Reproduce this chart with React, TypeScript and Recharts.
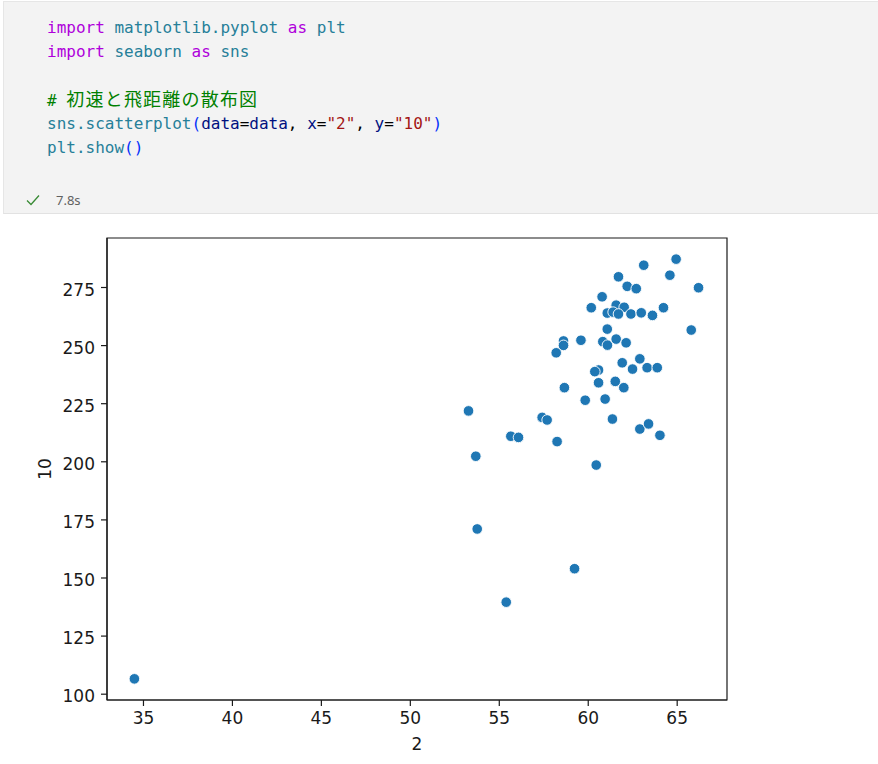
import React from "react";
import {
  ScatterChart,
  Scatter,
  XAxis,
  YAxis,
  ReferenceArea,
} from "recharts";

// x = "2" (初速), y = "10" (飛距離)
const initialSpeed = [
  64.94, 63.12, 64.59, 61.7, 66.2, 62.19, 62.7, 60.78, 60.17, 61.57, 62.02,
  61.07, 61.4, 61.7, 62.4, 62.98, 63.61, 64.23, 65.79, 61.07, 58.61, 58.61,
  59.59, 60.82, 61.08, 61.57, 62.13, 58.2, 61.91, 62.9, 62.49, 63.31, 63.88,
  60.58, 60.37, 60.58, 61.52, 62.0, 58.66, 59.83, 60.95, 57.41, 57.69, 61.36,
  62.9, 63.39, 64.03, 58.25, 53.27, 55.65, 56.08, 53.68, 60.45, 53.76, 59.23,
  55.39, 34.49,
];
const distance = [
  287.2, 284.6, 280.3, 279.6, 274.9, 275.5, 274.5, 271.0, 266.3, 267.4, 266.5,
  264.0, 264.4, 263.6, 263.6, 264.1, 263.0, 266.3, 256.7, 257.1, 252.0, 250.1,
  252.3, 251.7, 250.2, 252.8, 251.2, 246.9, 242.6, 244.3, 239.9, 240.5, 240.5,
  239.5, 238.8, 234.0, 234.6, 231.9, 231.9, 226.5, 227.0, 219.1, 218.0, 218.4,
  214.1, 216.3, 211.4, 208.7, 221.9, 211.0, 210.5, 202.4, 198.6, 171.1, 154.0,
  139.6, 106.6,
];
const xTicks = [35, 40, 45, 50, 55, 60, 65];
const yTicks = [100, 125, 150, 175, 200, 225, 250, 275];
const xDomain = [32.95, 67.8];
const yDomain = [97.5, 296.3];
const xLabel = "2";
const yLabel = "10";

const data = initialSpeed.map((x, i) => ({ x, y: distance[i] }));

const KW = "#af00db";
const MOD = "#267f99";
const VAR = "#001080";
const STR = "#a31515";
const PAREN = "#0431fa";
const CMT = "#008000";

const mono = "'DejaVu Sans Mono', 'Liberation Mono', monospace";

const Dot = (props: any) => {
  const { cx, cy } = props;
  if (cx == null || cy == null) return null;
  return (
    <circle cx={cx} cy={cy} r={5.3} fill="#1f77b4" stroke="#ffffff" strokeWidth={0.9} />
  );
};

const tickStyle = {
  fontFamily: "'DejaVu Sans', sans-serif",
  fontSize: 17,
  fill: "#1a1a1a",
};

const lineStyle: React.CSSProperties = { height: 24, overflow: "visible" };

export default function App() {
  return (
    <div
      style={{
        position: "absolute",
        left: 0,
        top: 0,
        width: 878,
        height: 764,
        background: "#ffffff",
        overflow: "hidden",
      }}
    >
      {/* code cell */}
      <div
        style={{
          position: "absolute",
          left: 3,
          top: 1,
          width: 875,
          height: 211,
          background: "#f3f3f3",
          borderLeft: "1px solid #e6e6e6",
          borderTop: "1px solid #e6e6e6",
          borderBottom: "1px solid #e2e2e2",
        }}
      />
      <div
        style={{
          position: "absolute",
          left: 47,
          top: 16,
          fontFamily: mono,
          fontSize: 16,
          lineHeight: "24px",
          whiteSpace: "pre",
          color: "#000",
        }}
      >
        <div style={lineStyle}>
          <span style={{ color: KW }}>import</span>{" "}
          <span style={{ color: MOD }}>matplotlib.pyplot</span>{" "}
          <span style={{ color: KW }}>as</span>{" "}
          <span style={{ color: MOD }}>plt</span>
        </div>
        <div style={lineStyle}>
          <span style={{ color: KW }}>import</span>{" "}
          <span style={{ color: MOD }}>seaborn</span>{" "}
          <span style={{ color: KW }}>as</span>{" "}
          <span style={{ color: MOD }}>sns</span>
        </div>
        <div style={lineStyle}>{" "}</div>
        <div style={{ ...lineStyle, color: CMT }}>
          #{" "}
          <span
            style={{
              fontFamily: "'Noto Sans CJK JP', sans-serif",
              fontSize: 18,
              letterSpacing: 1.2,
              lineHeight: "20px",
            }}
          >
            初速と飛距離の散布図
          </span>
        </div>
        <div style={lineStyle}>
          <span style={{ color: MOD }}>sns.scatterplot</span>
          <span style={{ color: PAREN }}>(</span>
          <span style={{ color: VAR }}>data</span>=
          <span style={{ color: VAR }}>data</span>,{" "}
          <span style={{ color: VAR }}>x</span>=
          <span style={{ color: STR }}>"2"</span>,{" "}
          <span style={{ color: VAR }}>y</span>=
          <span style={{ color: STR }}>"10"</span>
          <span style={{ color: PAREN }}>)</span>
        </div>
        <div style={lineStyle}>
          <span style={{ color: MOD }}>plt.show</span>
          <span style={{ color: PAREN }}>()</span>
        </div>
      </div>
      {/* status line */}
      <svg
        style={{ position: "absolute", left: 25, top: 192 }}
        width={16}
        height={16}
        viewBox="0 0 16 16"
      >
        <path d="M2 8.5 L6 12.5 L14 3.5" fill="none" stroke="#388a34" strokeWidth={1.3} />
      </svg>
      <div
        style={{
          position: "absolute",
          left: 56,
          top: 191,
          fontFamily: "'Segoe UI', 'Noto Sans', sans-serif",
          fontSize: 13,
          color: "#616161",
        }}
      >
        7.8s
      </div>

      {/* chart */}
      <div style={{ position: "absolute", left: 0, top: 213 }}>
        <ScatterChart
          width={878}
          height={551}
          margin={{ top: 25, right: 151, bottom: 8, left: 47 }}
        >
          <XAxis
            type="number"
            dataKey="x"
            domain={xDomain}
            ticks={xTicks}
            allowDataOverflow
            height={56}
            tickSize={6}
            tickMargin={6}
            tick={tickStyle}
            axisLine={{ stroke: "#1a1a1a", strokeWidth: 1.2 }}
            tickLine={{ stroke: "#1a1a1a", strokeWidth: 1.2 }}
            label={{
              value: xLabel,
              position: "insideBottom",
              offset: 6,
              style: tickStyle,
            }}
          />
          <YAxis
            type="number"
            dataKey="y"
            domain={yDomain}
            ticks={yTicks}
            allowDataOverflow
            width={60}
            tickSize={6}
            tickMargin={6}
            tick={{ ...tickStyle, dy: 2 }}
            axisLine={{ stroke: "#1a1a1a", strokeWidth: 1.2 }}
            tickLine={{ stroke: "#1a1a1a", strokeWidth: 1.2 }}
            label={{
              content: (p: any) => {
                const vb = p.viewBox || {};
                const cy = (vb.y || 0) + (vb.height || 0) / 2;
                return (
                  <text
                    x={45}
                    y={cy}
                    transform={`rotate(-90, 45, ${cy})`}
                    textAnchor="middle"
                    dominantBaseline="central"
                    style={tickStyle}
                  >
                    {yLabel}
                  </text>
                );
              },
            }}
          />
          <ReferenceArea
            x1={xDomain[0]}
            x2={xDomain[1]}
            y1={yDomain[0]}
            y2={yDomain[1]}
            fill="none"
            fillOpacity={0}
            stroke="#1a1a1a"
            strokeWidth={1.2}
          />
          <Scatter data={data} shape={<Dot />} isAnimationActive={false} />
        </ScatterChart>
      </div>
    </div>
  );
}
